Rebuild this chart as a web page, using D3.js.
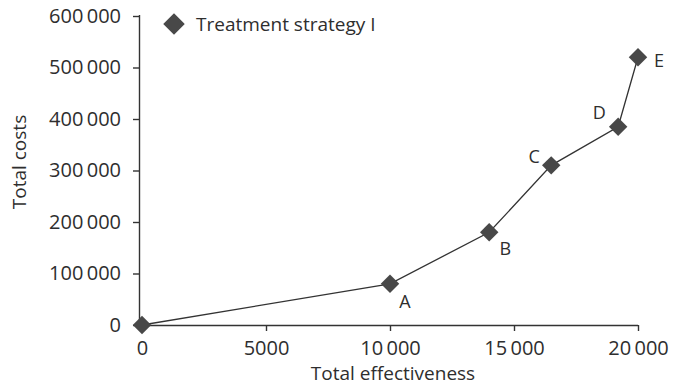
<!DOCTYPE html>
<html><head><meta charset="utf-8">
<script src="https://cdn.jsdelivr.net/npm/d3@7"></script>
<style>
html,body{margin:0;padding:0;background:#fff;}
svg text{font-family:"Open Sans",sans-serif;fill:#2e2e2e;}
</style></head>
<body><svg id="c" width="675" height="388"></svg>
<script>
const labels = ["", "A", "B", "C", "D", "E"];
const effectiveness = [0, 10000, 14000, 16500, 19200, 20000];
const costs = [0, 80000, 180000, 310000, 385000, 520000];
const xTicks = [0, 5000, 10000, 15000, 20000];
const yTicks = [0, 100000, 200000, 300000, 400000, 500000, 600000];
const seriesName = "Treatment strategy I";
const labelOffsets = [[0,0],[15,24],[16,23],[-17,-2],[-19,-8],[21,10]];

const svg = d3.select("#c");
const x = d3.scaleLinear().domain([0, 20000]).range([142, 638]);
const y = d3.scaleLinear().domain([0, 600000]).range([325, 16]);
const fmt = v => v >= 10000 ? d3.format(",")(v).replace(/,/g, "\u2009") : String(v);

const gx = svg.append("g").attr("transform", "translate(0,325)")
  .call(d3.axisBottom(x).tickValues(xTicks).tickFormat(fmt).tickSize(6).tickSizeOuter(0).tickPadding(6));
const gy = svg.append("g").attr("transform", "translate(139,0)")
  .call(d3.axisLeft(y).tickValues(yTicks).tickFormat(fmt).tickSize(6).tickSizeOuter(0).tickPadding(12));
[gx, gy].forEach(g => {
  g.select(".domain").attr("stroke", "#333").attr("stroke-width", 1.4);
  g.selectAll(".tick line").attr("stroke", "#333").attr("stroke-width", 1.4);
  g.selectAll(".tick text").style("font-size", "20px").style("font-family", "'Open Sans',sans-serif").attr("fill", "#2e2e2e");
});
gx.select(".domain").attr("d", "M139,0.5H638");
gy.select(".domain").attr("d", "M0.5,325V15");
gx.selectAll(".tick text").attr("dy", "0.9em");

const pts = effectiveness.map((e, i) => ({e, c: costs[i], l: labels[i], o: labelOffsets[i]}));
svg.append("path").datum(pts)
  .attr("d", d3.line().x(d => x(d.e)).y(d => y(d.c)))
  .attr("fill", "none").attr("stroke", "#333").attr("stroke-width", 1.3);

const diamond = d3.symbol().type(d3.symbolSquare).size(170);
svg.selectAll(".pt").data(pts).join("path")
  .attr("transform", d => `translate(${x(d.e)},${y(d.c)}) rotate(45)`)
  .attr("d", diamond).attr("fill", "#484848");

svg.selectAll(".lbl").data(pts.filter(d => d.l)).join("text")
  .attr("x", d => x(d.e) + d.o[0]).attr("y", d => y(d.c) + d.o[1])
  .attr("text-anchor", "middle").style("font-size", "18px").text(d => d.l);

// legend
svg.append("path").attr("transform", "translate(174,24) rotate(45)")
  .attr("d", d3.symbol().type(d3.symbolSquare).size(230)).attr("fill", "#484848");
svg.append("text").attr("x", 196).attr("y", 31).style("font-size", "19px").text(seriesName);

// axis titles
svg.append("text").attr("x", 393).attr("y", 380).attr("text-anchor", "middle")
  .style("font-size", "19px").text("Total effectiveness");
svg.append("text").attr("transform", "translate(26,162) rotate(-90)").attr("text-anchor", "middle")
  .style("font-size", "19px").text("Total costs");
</script></body></html>
